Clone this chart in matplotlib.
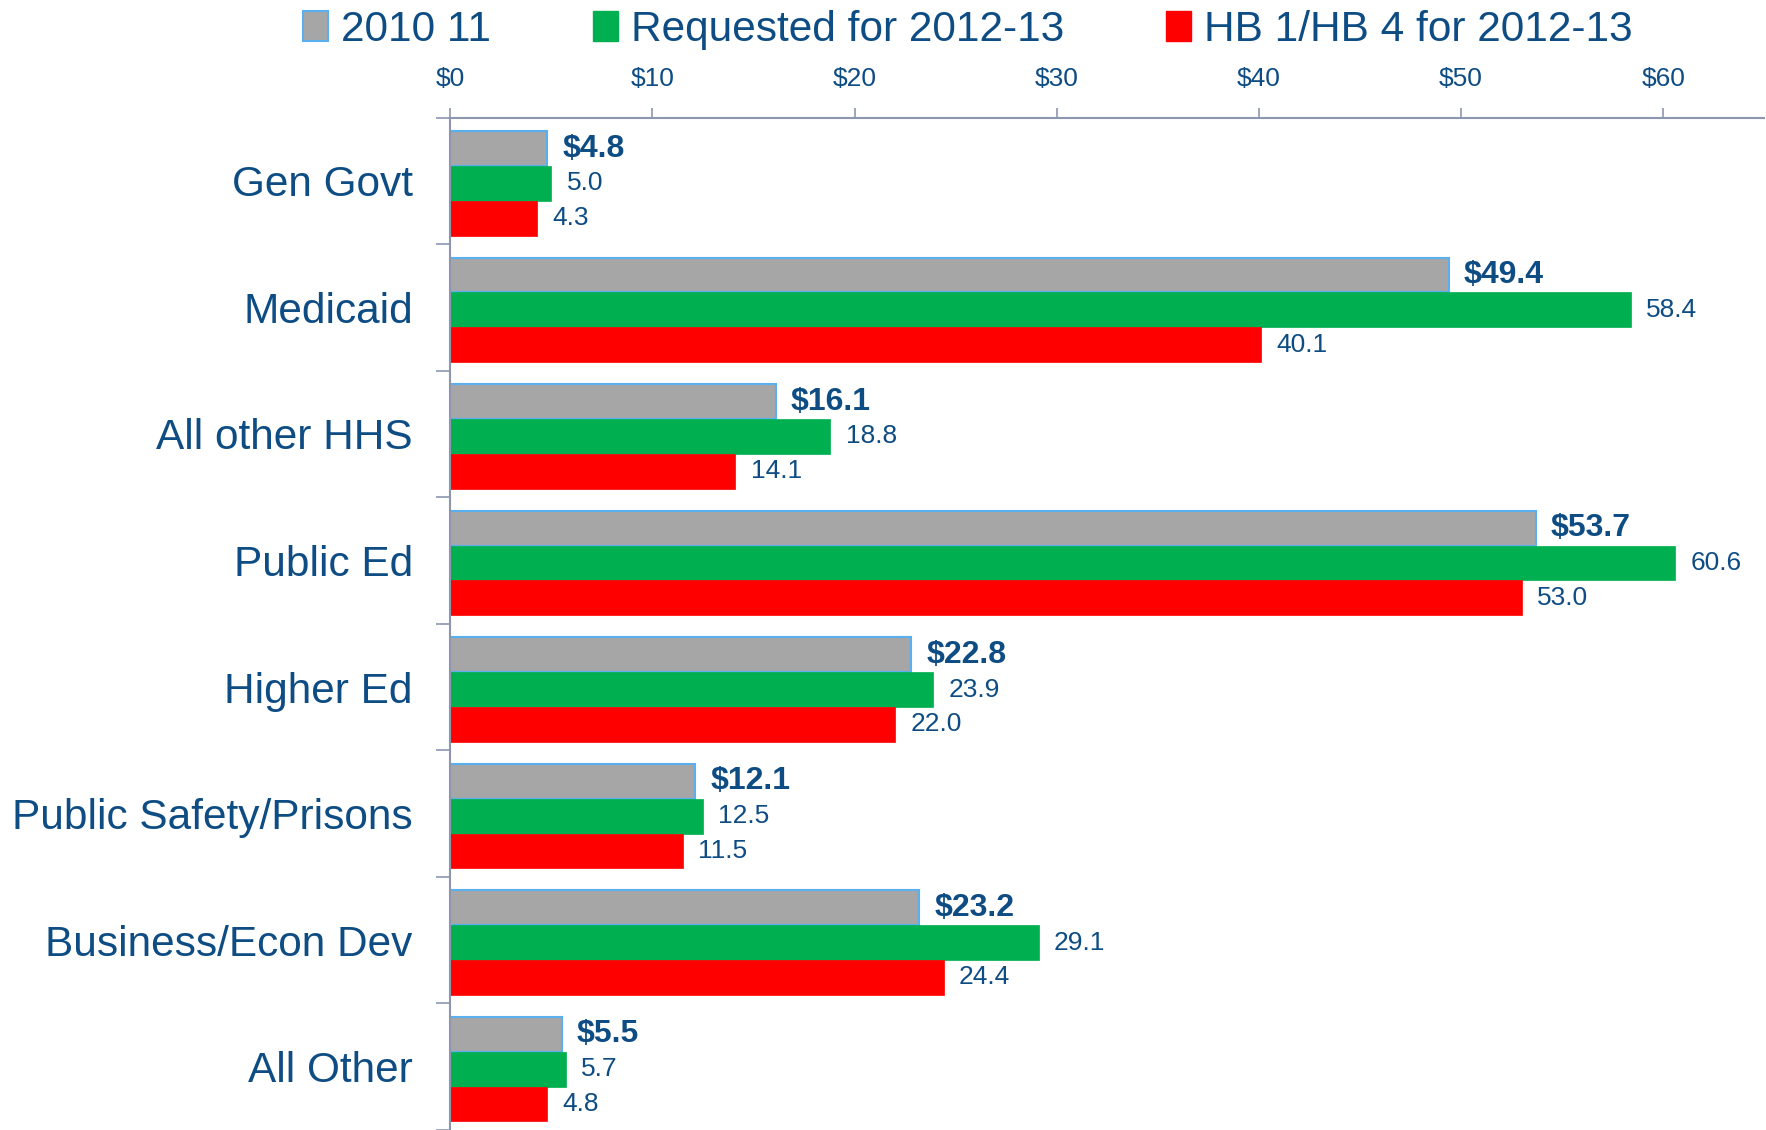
import numpy as np
import matplotlib.pyplot as plt
from matplotlib.patches import Patch

plt.rcParams['font.family'] = ['Liberation Sans', 'DejaVu Sans']

categories = ['Gen Govt', 'Medicaid', 'All other HHS', 'Public Ed', 'Higher Ed',
              'Public Safety/Prisons', 'Business/Econ Dev', 'All Other']
base = [4.8, 49.4, 16.1, 53.7, 22.8, 12.1, 23.2, 5.5]
requested = [5.0, 58.4, 18.8, 60.6, 23.9, 12.5, 29.1, 5.7]
hb = [4.3, 40.1, 14.1, 53.0, 22.0, 11.5, 24.4, 4.8]
series_names = ['2010 11', 'Requested for 2012-13', 'HB 1/HB 4 for 2012-13']

blue = '#0E4C84'
gray = '#A6A6A6'
green = '#00B050'
red = '#FF0000'
edge = '#5AB0EE'

fig = plt.figure(figsize=(17.66, 11.30), dpi=100)
ax = fig.add_axes([0.255, 0.0, 0.744, 0.896])

y = np.arange(len(categories)) + 0.02
h = 0.275
ax.barh(y - h, base, height=h, color=gray, edgecolor=edge, linewidth=1.5)
ax.barh(y, requested, height=h, color=green, edgecolor=green, linewidth=0.5)
ax.barh(y + h, hb, height=h, color=red, edgecolor=red, linewidth=0.5)

off = 0.75
for i in range(len(categories)):
    ax.text(base[i] + off, y[i] - h, '$%.1f' % base[i], va='center', ha='left',
            fontsize=23, fontweight='bold', color=blue)
    ax.text(requested[i] + off, y[i], '%.1f' % requested[i], va='center', ha='left',
            fontsize=19, color=blue)
    ax.text(hb[i] + off, y[i] + h, '%.1f' % hb[i], va='center', ha='left',
            fontsize=19, color=blue)

ax.set_xlim(0, 65)
ax.set_ylim(len(categories) - 0.5, -0.5)
ax.xaxis.tick_top()
ax.set_xticks(range(0, 61, 10))
ax.set_xticklabels(['$%d' % v for v in range(0, 61, 10)], fontsize=19, color=blue)
ax.tick_params(axis='x', direction='out', length=7, width=1.2, color='#8C96B0', pad=12)

ax.set_yticks(np.arange(len(categories)))
ax.set_yticklabels(categories, fontsize=30.5, color=blue)
ax.set_yticks(np.arange(-0.5, len(categories), 1), minor=True)
ax.tick_params(axis='y', which='major', length=0, pad=27)
ax.tick_params(axis='y', which='minor', length=10, width=1.2, color='#8C96B0')

for s in ['right', 'bottom']:
    ax.spines[s].set_visible(False)
for s in ['top', 'left']:
    ax.spines[s].set_color('#8C96B0')
    ax.spines[s].set_linewidth(1.5)

handles = [Patch(facecolor=gray, edgecolor=edge, linewidth=1.5),
           Patch(facecolor=green, edgecolor=green),
           Patch(facecolor=red, edgecolor=red)]
leg = fig.legend(handles, series_names, loc='upper center', bbox_to_anchor=(0.548, 1.025),
                 ncol=3, frameon=False, fontsize=30.5, handlelength=0.6, handleheight=0.7,
                 handletextpad=0.3, columnspacing=2.4)
for t in leg.get_texts():
    t.set_color(blue)

fig.savefig('out.png', dpi=100)
